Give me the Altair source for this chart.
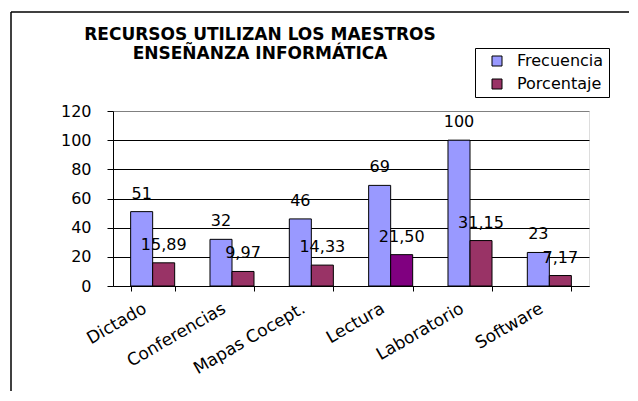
import altair as alt
import pandas as pd

categorias = ["Dictado", "Conferencias", "Mapas Cocept.", "Lectura", "Laboratorio", "Software"]
frecuencia = [51, 32, 46, 69, 100, 23]
porcentaje = [15.89, 9.97, 14.33, 21.50, 31.15, 7.17]
series = ["Frecuencia", "Porcentaje"]
colores = ["#9999FF", "#993366"]
y_ticks = [0, 20, 40, 60, 80, 100, 120]
titulo = ["RECURSOS UTILIZAN LOS MAESTROS", "ENSEÑANZA INFORMÁTICA"]

rows = []
for c, f, p in zip(categorias, frecuencia, porcentaje):
    rows.append({"cat": c, "serie": "Frecuencia", "valor": f, "etiqueta": str(f)})
    rows.append({"cat": c, "serie": "Porcentaje", "valor": p,
                 "etiqueta": f"{p:.2f}".replace(".", ",")})
df = pd.DataFrame(rows)

FONT = "DejaVu Sans"
W, H = 476, 175

x_enc = alt.X("cat:N", sort=categorias, title=None,
              scale=alt.Scale(paddingInner=0.445, paddingOuter=0.2225),
              axis=alt.Axis(labelAngle=-30, tickBand="extent", labelFont=FONT,
                            labelFontSize=17, labelColor="black", domainColor="black",
                            tickColor="black", tickSize=5, labelPadding=9,
                            labelOffset=-12, grid=False))
xo_enc = alt.XOffset("serie:N", sort=series,
                     scale=alt.Scale(paddingInner=0, paddingOuter=0))
y_enc = alt.Y("valor:Q", title=None,
              scale=alt.Scale(domain=[0, 120], nice=False),
              axis=alt.Axis(values=y_ticks, labelFont=FONT, labelFontSize=16,
                            labelColor="black", domainColor="black", tickColor="black",
                            tickSize=6, labelPadding=16, grid=True,
                            gridColor=alt.condition("datum.value == 120",
                                                    alt.value("#808080"),
                                                    alt.value("black")),
                            gridOpacity=1))

color_enc = alt.condition(
    "datum.cat == 'Lectura' && datum.serie == 'Porcentaje'",
    alt.value("#800080"),
    alt.Color("serie:N", sort=series,
              scale=alt.Scale(domain=series, range=colores),
              legend=alt.Legend(title=None, orient="none", legendX=362, legendY=-63,
                                strokeColor="black", fillColor="white", padding=5,
                                rowPadding=7, symbolType="square", symbolSize=100,
                                symbolStrokeColor="black", symbolStrokeWidth=1,
                                symbolOffset=9, labelOffset=12,
                                labelFont=FONT, labelFontSize=16, labelColor="black")))

base = alt.Chart(df)
bars = base.mark_bar(stroke="black", strokeWidth=1).encode(
    x=x_enc, xOffset=xo_enc, y=y_enc, color=color_enc)
labels = base.mark_text(dy=-18, baseline="middle", font=FONT, fontSize=16,
                        color="black").encode(
    x=x_enc, xOffset=xo_enc, y=y_enc, text="etiqueta:N")

frame_df = pd.DataFrame({"k": [0]})
left_line = alt.Chart(frame_df).mark_rule(color="black", strokeWidth=1.5).encode(
    x=alt.value(-102), y=alt.value(-99), y2=alt.value(300))
top_line = alt.Chart(frame_df).mark_rule(color="black", strokeWidth=1.5).encode(
    x=alt.value(-102), x2=alt.value(540), y=alt.value(-99))

chart = alt.layer(bars, labels, left_line, top_line).properties(
    width=W, height=H,
    title=alt.TitleParams(text=titulo, anchor="start", align="center", dx=147,
                          offset=0, dy=52, font=FONT, fontSize=17, fontWeight="bold",
                          color="black", lineHeight=19, frame="group"),
    autosize=alt.AutoSizeParams(type="none"),
    padding={"left": 105, "top": 103, "right": 40, "bottom": 105},
).configure_view(fill="#C0C0C0", stroke="#808080").configure(background="white")

chart.save("out.html", embed_options={"renderer": "svg", "actions": False})
